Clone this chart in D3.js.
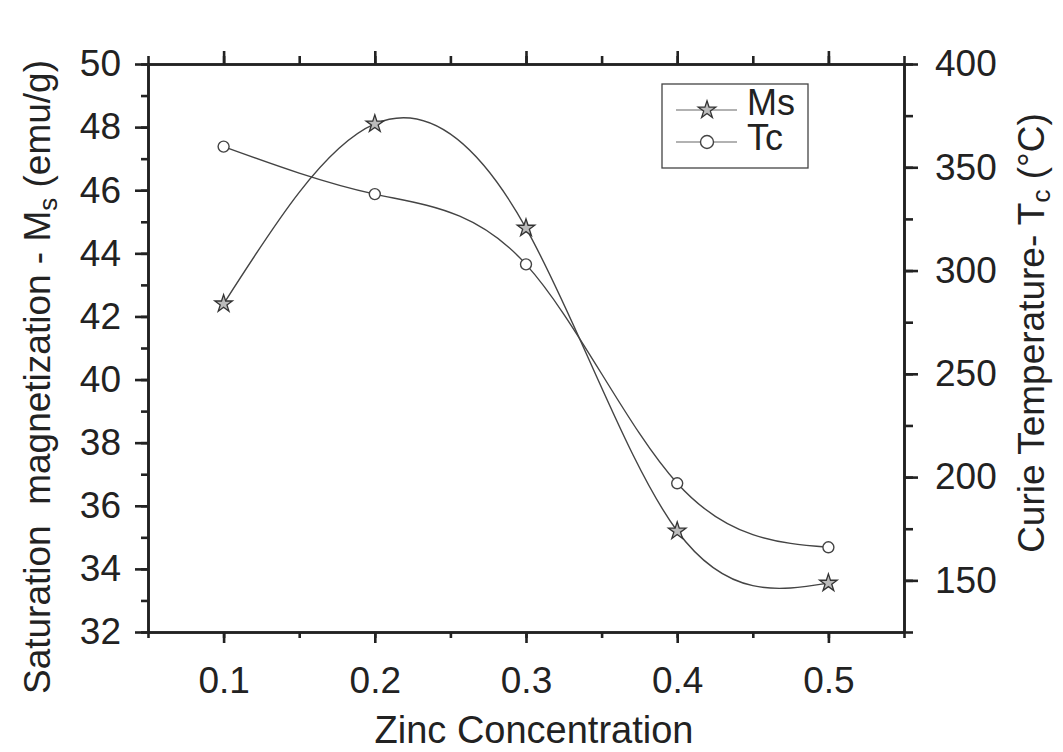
<!DOCTYPE html>
<html>
<head>
<meta charset="utf-8">
<script src="https://cdn.jsdelivr.net/npm/d3@7/dist/d3.min.js"></script>
<style>
  html, body { margin: 0; padding: 0; background: #fff; }
  svg { display: block; font-family: "Liberation Sans", Arial, sans-serif; }
</style>
</head>
<body>
<svg id="chart" width="1063" height="752"></svg>
<script>
// Zinc concentration series
const zinc = [0.1, 0.2, 0.3, 0.4, 0.5];
const msValues = [42.4, 48.1, 44.8, 35.2, 33.55];   // emu/g
const tcValues = [360, 337, 303, 197, 166];         // °C
const xTicks = [0.1, 0.2, 0.3, 0.4, 0.5];
const msTicks = [32, 34, 36, 38, 40, 42, 44, 46, 48, 50];
const tcTicks = [150, 200, 250, 300, 350, 400];
const legendLabels = ["Ms", "Tc"];

const svg = d3.select("#chart");
const margin = { left: 148, right: 904, top: 64, bottom: 632 };
const axisColor = "#222";
const lineColor = "#444";

const x = d3.scaleLinear().domain([0.05, 0.55]).range([margin.left, margin.right]);
const yL = d3.scaleLinear().domain([32, 50]).range([margin.bottom, margin.top]);
const yR = d3.scaleLinear().domain([125, 400]).range([margin.bottom, margin.top]);

const minorX = d3.range(0.05, 0.551, 0.05).map(v => +v.toFixed(2));
const minorL = d3.range(32, 50.1, 1);
const minorR = d3.range(125, 400.1, 25);

function styleAxis(g) {
  g.select(".domain").attr("stroke", axisColor).attr("stroke-width", 2.6);
  g.selectAll(".tick line").attr("stroke", axisColor).attr("stroke-width", 2.6);
  g.selectAll(".tick text").attr("fill", "#222").style("font-size", "37px");
}

// minor ticks first
svg.append("g").attr("transform", `translate(0,${margin.bottom})`)
  .call(d3.axisBottom(x).tickValues(minorX).tickSize(6).tickFormat("").tickSizeOuter(0))
  .call(styleAxis);
svg.append("g").attr("transform", `translate(0,${margin.top})`)
  .call(d3.axisBottom(x).tickValues(minorX).tickSize(-8).tickFormat("").tickSizeOuter(0))
  .call(styleAxis);
svg.append("g").attr("transform", `translate(${margin.left},0)`)
  .call(d3.axisLeft(yL).tickValues(minorL).tickSize(7).tickFormat("").tickSizeOuter(0))
  .call(styleAxis);
svg.append("g").attr("transform", `translate(${margin.right},0)`)
  .call(d3.axisRight(yR).tickValues(minorR).tickSize(9).tickFormat("").tickSizeOuter(0))
  .call(styleAxis);

// major ticks + labels
svg.append("g").attr("transform", `translate(0,${margin.bottom})`)
  .call(d3.axisBottom(x).tickValues(xTicks).tickSize(11).tickPadding(24).tickFormat(d3.format(".1f")).tickSizeOuter(0))
  .call(styleAxis);
svg.append("g").attr("transform", `translate(0,${margin.top})`)
  .call(d3.axisBottom(x).tickValues(xTicks).tickSize(-13).tickFormat("").tickSizeOuter(0))
  .call(styleAxis);
svg.append("g").attr("transform", `translate(${margin.left},0)`)
  .call(d3.axisLeft(yL).tickValues(msTicks).tickSize(13).tickPadding(14).tickFormat(d3.format("d")).tickSizeOuter(0))
  .call(styleAxis);
svg.append("g").attr("transform", `translate(${margin.right},0)`)
  .call(d3.axisRight(yR).tickValues(tcTicks).tickSize(14).tickPadding(17).tickFormat(d3.format("d")).tickSizeOuter(0))
  .call(styleAxis);

// Curves
const data = zinc.map((z, i) => ({ z, ms: msValues[i], tc: tcValues[i] }));
const lineMs = d3.line().x(d => x(d.z)).y(d => yL(d.ms)).curve(d3.curveNatural);
const lineTc = d3.line().x(d => x(d.z)).y(d => yR(d.tc)).curve(d3.curveNatural);

svg.append("path").datum(data).attr("d", lineTc)
  .attr("fill", "none").attr("stroke", lineColor).attr("stroke-width", 1.4);
svg.append("path").datum(data).attr("d", lineMs)
  .attr("fill", "none").attr("stroke", lineColor).attr("stroke-width", 1.4);

const star = d3.symbol().type(d3.symbolStar).size(95);
svg.append("g").selectAll("path").data(data).join("path")
  .attr("d", star)
  .attr("transform", d => `translate(${x(d.z)},${yL(d.ms)})`)
  .attr("fill", "#bbb").attr("stroke", "#333").attr("stroke-width", 1.3);
svg.append("g").selectAll("circle").data(data).join("circle")
  .attr("cx", d => x(d.z)).attr("cy", d => yR(d.tc)).attr("r", 5.5)
  .attr("fill", "#fff").attr("stroke", "#444").attr("stroke-width", 1.4);

// Legend
const lg = svg.append("g");
lg.append("rect").attr("x", 662).attr("y", 84).attr("width", 146).attr("height", 84)
  .attr("fill", "#fff").attr("stroke", "#444").attr("stroke-width", 1.3);
const legendY = [110, 142];
const legendBase = [115, 150];
legendLabels.forEach((lab, i) => {
  lg.append("line").attr("x1", 676).attr("x2", 737).attr("y1", legendY[i]).attr("y2", legendY[i])
    .attr("stroke", "#999").attr("stroke-width", 1.6);
  if (i === 0) {
    lg.append("path").attr("d", star).attr("transform", `translate(707,${legendY[i]})`)
      .attr("fill", "#bbb").attr("stroke", "#333").attr("stroke-width", 1.3);
  } else {
    lg.append("circle").attr("cx", 707).attr("cy", legendY[i]).attr("r", 6.5)
      .attr("fill", "#fff").attr("stroke", "#444").attr("stroke-width", 1.4);
  }
  lg.append("text").attr("x", 747).attr("y", legendBase[i]).text(lab)
    .attr("fill", "#222").style("font-size", "36px");
});

// Axis titles
svg.append("text").attr("x", 534).attr("y", 743).attr("text-anchor", "middle")
  .style("font-size", "38px").attr("fill", "#222").text("Zinc Concentration");

const lt = svg.append("text").attr("transform", "translate(50,377) rotate(-90)")
  .attr("text-anchor", "middle").style("font-size", "37px").attr("fill", "#222")
  .attr("xml:space", "preserve");
lt.append("tspan").text("Saturation  magnetization - M");
lt.append("tspan").attr("dy", 7).style("font-size", "26px").text("s");
lt.append("tspan").attr("dy", -7).text(" (emu/g)");

const rt = svg.append("text").attr("transform", "translate(1044,333) rotate(-90)")
  .attr("text-anchor", "middle").style("font-size", "37px").attr("fill", "#222");
rt.append("tspan").text("Curie Temperature- T");
rt.append("tspan").attr("dy", 6).style("font-size", "26px").text("c");
rt.append("tspan").attr("dy", -6).text(" (°C)");
</script>
</body>
</html>
